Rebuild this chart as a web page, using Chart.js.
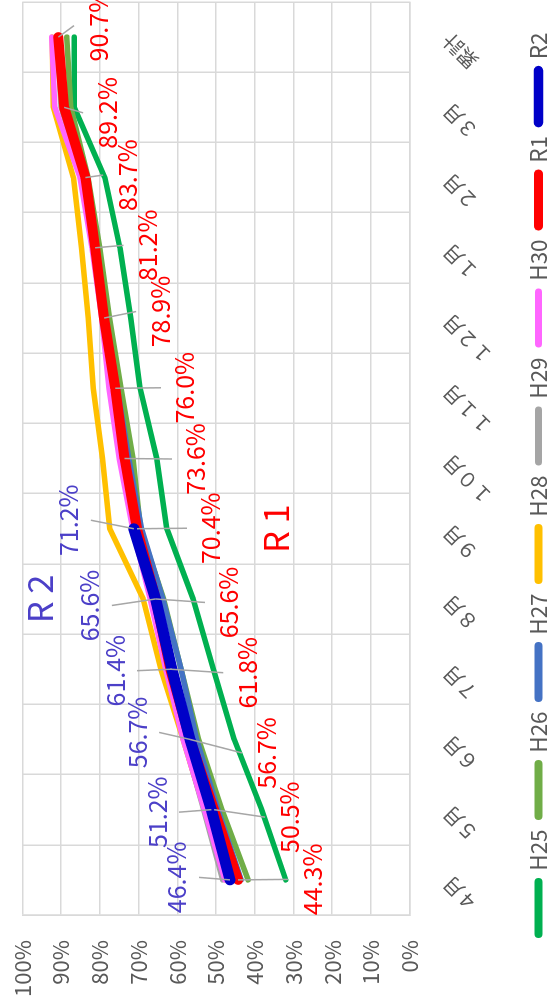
<!DOCTYPE html>
<html><head><meta charset="utf-8">
<script src="https://cdn.jsdelivr.net/npm/chart.js@4.4.1/dist/chart.umd.min.js"></script>
<style>
html,body{margin:0;padding:0;background:#fff;overflow:hidden;width:547px;height:1002px;}
#wrap{position:absolute;left:0;top:0;width:1002px;height:547px;transform-origin:0 0;transform:translate(0,1002px) rotate(-90deg);background:#fff;}
</style></head><body>
<div id="wrap"><canvas id="c" width="1002" height="547"></canvas></div>
<script>
// ---- data ----
const categories = ['４月','５月','６月','７月','８月','９月','１０月','１１月','１２月','１月','２月','３月','累計'];
const seriesNames = ['H25','H26','H27','H28','H29','H30','R1','R2'];
const H25 = [32.0, 38.2, 45.3, 50.7, 55.9, 62.7, 65.3, 69.6, 72.0, 74.8, 78.7, 86.6, 86.6];
const H26 = [41.7, 48.5, 54.5, 59.0, 63.5, 69.5, 71.4, 74.5, 77.5, 80.0, 83.0, 87.5, 88.5];
const H27 = [43.5, 49.5, 55.0, 59.0, 63.7, 69.2, 72.5, 75.5, 78.5, 81.0, 83.5, 89.0, 90.5];
const H28 = [47.5, 53.0, 58.5, 64.2, 68.8, 77.4, 79.3, 81.7, 83.0, 84.7, 86.8, 92.0, 92.3];
const H29 = [48.3, 53.2, 58.3, 62.8, 66.8, 71.0, 74.5, 77.2, 79.3, 81.8, 84.5, 90.0, 91.0];
const H30 = [47.7, 53.0, 58.5, 63.0, 67.0, 71.5, 75.0, 77.6, 79.5, 82.0, 85.1, 91.6, 92.4];
const R1  = [44.3, 50.5, 56.7, 61.8, 65.6, 70.4, 73.6, 76.0, 78.9, 81.2, 83.7, 89.2, 90.7];
const R2  = [46.4, 51.2, 56.7, 61.4, 65.6, 71.2];
const yMin = 0, yMax = 100, yStep = 10;

// ---- styles / layout ----
const colors = ['#00B050','#70AD47','#4472C4','#FFC000','#A5A5A5','#FF66FF','#FF0000','#0000C8'];
const widths = [5.5,5.5,5.5,5.5,5.5,5.5,10,11];
const legendWidths = [8,8,8,8,7,7,9,9.5];
const R2_TEXT = '#4c40c8';
const FONT = '"Noto Sans CJK JP", "Noto Sans", sans-serif';
const r1LabelOffsets = [[0.5,74],[-7.5,75],[-13.5,76],[-3.5,77],[-3.5,73.4],[0.5,74],[-0.5,71.4],[0.5,69.7],[6.5,56],[2.5,52.4],[2.5,41.6],[-5.5,43],[11.5,39.7]];
const r2LabelOffsets = [[2.5,-53],[-2.5,-54.3],[7,-53],[-1.5,-56.8],[-6.5,-65.6],[8.5,-65]];
const annotations = [
  {text:'R 1', cat:5, value:34.6, color:'#FF0000'},
  {text:'R 2', cat:4, value:95.5, color:R2_TEXT}
];

const mctx = document.createElement('canvas').getContext('2d');
function textW(t, size){ mctx.font = size + 'px ' + FONT; return mctx.measureText(t).width; }
function fitSize(t, target){ return 100 * target / textW(t, 100); }
const fsLegend = Math.round(fitSize('H25', 41) * 2) / 2;
const fsYTick = Math.round(fitSize('100%', 57) * 2) / 2;
const fsLabel = Math.round(fitSize('65.6%', 72) * 2) / 2;
const fsAnno = Math.round(fitSize('R 1', 49) * 2) / 2;
const fsX = 20;

const PLOT_TOP = 22.3, PLOT_BOTTOM = 409.7, PLOT_LEFT = 87;
const legendBoxW = 52;
const legendPad = Math.max(2, 118 - legendBoxW - fsLegend/2 - textW('H25', fsLegend));
const legendBottom = 548.5 + fsLegend/2;
const legendH = fsLegend + legendPad + 10;
const xAxisH = legendBottom - legendH - PLOT_BOTTOM;
const LEGEND_START = 68;

const allData = [H25,H26,H27,H28,H29,H30,R1,R2];
const datasets = seriesNames.map((n,i)=>({
  label:n, data:allData[i], borderColor:colors[i], backgroundColor:colors[i],
  borderWidth:widths[i], pointRadius:0, pointHoverRadius:0, tension:0,
  borderCapStyle:'round', borderJoinStyle:'round', order: seriesNames.length-1-i, fill:false
}));

const labelPlugin = {
  id:'dlabels',
  afterLayout(chart){
    const lg = chart.legend;
    if (lg) { const d = LEGEND_START - (lg.left + legendPad); lg.left += d; lg.right += d; }
  },
  afterDatasetsDraw(chart){
    const ctx = chart.ctx;
    const specs = [
      {ds:6, offs:r1LabelOffsets, color:'#FF0000', lead:-24},
      {ds:7, offs:r2LabelOffsets, color:R2_TEXT, lead:22}
    ];
    ctx.save();
    ctx.strokeStyle = '#A6A6A6'; ctx.lineWidth = 1.5; ctx.lineCap='butt';
    specs.forEach(s=>{
      chart.getDatasetMeta(s.ds).data.forEach((pt,i)=>{
        const [dx,dy] = s.offs[i];
        ctx.beginPath(); ctx.moveTo(pt.x,pt.y); ctx.lineTo(pt.x+dx, pt.y+dy+s.lead); ctx.stroke();
      });
    });
    ctx.font = fsLabel + 'px ' + FONT; ctx.textAlign='center'; ctx.textBaseline='middle';
    specs.forEach(s=>{
      const vals = chart.data.datasets[s.ds].data;
      ctx.fillStyle = s.color;
      chart.getDatasetMeta(s.ds).data.forEach((pt,i)=>{
        const [dx,dy] = s.offs[i];
        ctx.fillText(vals[i].toFixed(1)+'%', pt.x+dx, pt.y+dy);
      });
    });
    ctx.font = fsAnno + 'px ' + FONT;
    annotations.forEach(a=>{
      ctx.fillStyle = a.color;
      ctx.fillText(a.text, chart.scales.x.getPixelForValue(a.cat), chart.scales.y.getPixelForValue(a.value));
    });
    ctx.restore();
  }
};

new Chart(document.getElementById('c'), {
  type:'line',
  data:{labels:categories, datasets},
  plugins:[labelPlugin],
  options:{
    responsive:false, animation:false, devicePixelRatio:1,
    layout:{padding:{top:PLOT_TOP, right:2, left:0, bottom:547 - legendBottom}},
    plugins:{
      tooltip:{enabled:false},
      legend:{
        position:'bottom', align:'start',
        labels:{
          usePointStyle:true, pointStyleWidth:legendBoxW, padding:legendPad, color:'#595959',
          font:{size:fsLegend, family:FONT},
          generateLabels:(chart)=>chart.data.datasets.map((ds,i)=>({
            text:ds.label, strokeStyle:ds.borderColor, fillStyle:ds.borderColor,
            lineWidth:legendWidths[i], lineCap:'round', pointStyle:'line', hidden:false,
            datasetIndex:i, fontColor:'#595959'
          }))
        }
      }
    },
    scales:{
      x:{
        offset:true,
        grid:{offset:true, color:'#d9d9d9', lineWidth:1.5, drawTicks:false},
        border:{color:'#d9d9d9', width:1.5},
        ticks:{autoSkip:false, maxRotation:45, minRotation:45, padding:28, color:'#595959', font:{size:fsX, family:FONT}},
        afterFit:(s)=>{ s.height = xAxisH; s.paddingLeft = 0; s.paddingRight = 0; }
      },
      y:{
        min:yMin, max:yMax,
        grid:{color:'#d9d9d9', lineWidth:1.5, drawTicks:false},
        border:{color:'#d9d9d9', width:1.5},
        ticks:{stepSize:yStep, padding:25, color:'#595959', font:{size:fsYTick, family:FONT}, callback:(v)=>v+'%'},
        afterFit:(s)=>{ s.width = PLOT_LEFT; s.paddingTop = 0; s.paddingBottom = 0; }
      }
    }
  }
});
</script>
</body></html>
